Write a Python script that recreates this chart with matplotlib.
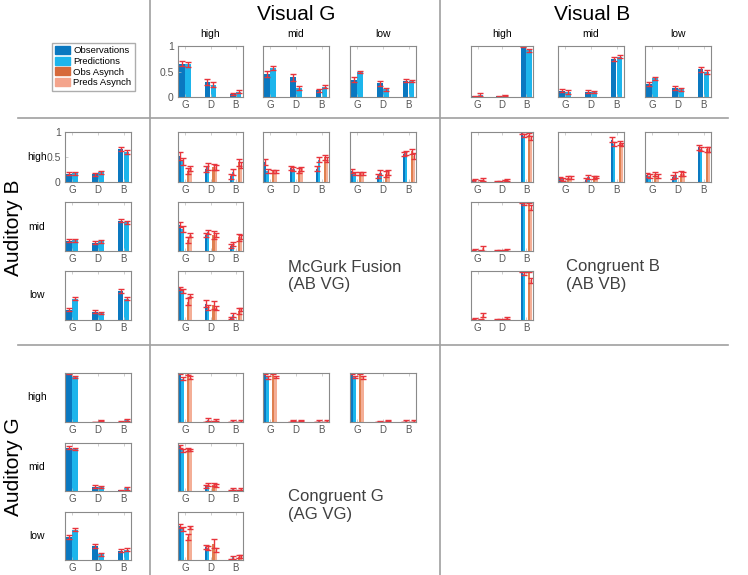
import numpy as np
import matplotlib
matplotlib.use('Agg')
import matplotlib.pyplot as plt
from matplotlib.patches import Patch

plt.rcParams['font.family'] = ['Liberation Sans', 'DejaVu Sans']

W, H = 748, 575

cats = ['G', 'D', 'B']
levels = ['high', 'mid', 'low']

# unimodal conditions, one row per level (high, mid, low), columns G D B
vis_g_obs = [[0.65, 0.30, 0.05], [0.45, 0.39, 0.13], [0.34, 0.27, 0.32]]
vis_g_obs_err = [[0.05, 0.06, 0.02], [0.06, 0.07, 0.03], [0.05, 0.05, 0.03]]
vis_g_pred = [[0.64, 0.24, 0.10], [0.57, 0.17, 0.20], [0.49, 0.15, 0.32]]
vis_g_pred_err = [[0.05, 0.05, 0.03], [0.04, 0.04, 0.03], [0.02, 0.03, 0.02]]

vis_b_obs = [[0.01, 0.01, 0.99], [0.12, 0.10, 0.75], [0.26, 0.17, 0.54]]
vis_b_obs_err = [[0.01, 0.01, 0.01], [0.03, 0.03, 0.04], [0.04, 0.04, 0.04]]
vis_b_pred = [[0.04, 0.02, 0.92], [0.10, 0.09, 0.79], [0.37, 0.15, 0.49]]
vis_b_pred_err = [[0.03, 0.01, 0.03], [0.04, 0.02, 0.03], [0.03, 0.03, 0.03]]

aud_b_obs = [[0.17, 0.16, 0.66], [0.21, 0.17, 0.62], [0.21, 0.17, 0.60]]
aud_b_obs_err = [[0.03, 0.03, 0.04], [0.03, 0.03, 0.03], [0.03, 0.03, 0.04]]
aud_b_pred = [[0.18, 0.20, 0.60], [0.22, 0.20, 0.59], [0.43, 0.15, 0.43]]
aud_b_pred_err = [[0.03, 0.03, 0.04], [0.03, 0.03, 0.03], [0.03, 0.02, 0.03]]

aud_g_obs = [[0.99, 0.00, 0.01], [0.90, 0.09, 0.02], [0.48, 0.29, 0.19]]
aud_g_obs_err = [[0.01, 0.00, 0.01], [0.03, 0.03, 0.01], [0.04, 0.04, 0.03]]
aud_g_pred = [[0.92, 0.03, 0.04], [0.88, 0.08, 0.06], [0.63, 0.12, 0.21]]
aud_g_pred_err = [[0.02, 0.01, 0.02], [0.02, 0.02, 0.03], [0.03, 0.03, 0.03]]

# audiovisual conditions: panels (aud level, vis level)
av_panels = [('high', 'high'), ('high', 'mid'), ('high', 'low'), ('mid', 'high'), ('low', 'high')]

ab_vg_obs = [[0.52, 0.27, 0.12], [0.40, 0.28, 0.27], [0.23, 0.13, 0.57], [0.54, 0.32, 0.10], [0.65, 0.33, 0.05]]
ab_vg_obs_err = [[0.08, 0.06, 0.05], [0.06, 0.04, 0.05], [0.04, 0.04, 0.04], [0.06, 0.04, 0.04], [0.03, 0.07, 0.02]]
ab_vg_pred = [[0.42, 0.32, 0.20], [0.22, 0.27, 0.45], [0.18, 0.19, 0.58], [0.45, 0.38, 0.14], [0.60, 0.26, 0.10]]
ab_vg_pred_err = [[0.07, 0.07, 0.06], [0.04, 0.04, 0.05], [0.03, 0.05, 0.04], [0.07, 0.04, 0.04], [0.04, 0.05, 0.04]]
ab_vg_obs_as = [[0.22, 0.30, 0.40], [0.22, 0.23, 0.50], [0.18, 0.16, 0.62], [0.22, 0.33, 0.28], [0.37, 0.31, 0.19]]
ab_vg_obs_as_err = [[0.06, 0.06, 0.07], [0.03, 0.05, 0.05], [0.03, 0.06, 0.05], [0.06, 0.08, 0.07], [0.07, 0.08, 0.06]]
ab_vg_pred_as = [[0.28, 0.30, 0.34], [0.22, 0.27, 0.45], [0.18, 0.20, 0.53], [0.33, 0.32, 0.28], [0.50, 0.25, 0.22]]
ab_vg_pred_as_err = [[0.05, 0.05, 0.06], [0.03, 0.04, 0.05], [0.03, 0.05, 0.06], [0.04, 0.04, 0.04], [0.04, 0.04, 0.03]]

ab_vb_obs = [[0.02, 0.01, 0.98], [0.08, 0.05, 0.85], [0.14, 0.10, 0.70], [0.01, 0.01, 0.99], [0.02, 0.01, 0.99]]
ab_vb_obs_err = [[0.02, 0.01, 0.02], [0.03, 0.04, 0.05], [0.04, 0.04, 0.05], [0.01, 0.01, 0.01], [0.01, 0.01, 0.01]]
ab_vb_pred = [[0.04, 0.02, 0.93], [0.06, 0.10, 0.77], [0.13, 0.15, 0.66], [0.03, 0.01, 0.96], [0.03, 0.01, 0.94]]
ab_vb_pred_err = [[0.03, 0.01, 0.03], [0.03, 0.04, 0.04], [0.04, 0.06, 0.04], [0.02, 0.01, 0.03], [0.02, 0.01, 0.03]]
ab_vb_obs_as = [[0.03, 0.03, 0.95], [0.09, 0.10, 0.78], [0.16, 0.17, 0.66], [0.02, 0.02, 0.99], [0.02, 0.02, 0.99]]
ab_vb_obs_as_err = [[0.02, 0.02, 0.03], [0.03, 0.03, 0.04], [0.04, 0.05, 0.05], [0.01, 0.01, 0.01], [0.01, 0.01, 0.01]]
ab_vb_pred_as = [[0.05, 0.04, 0.89], [0.09, 0.11, 0.76], [0.13, 0.17, 0.66], [0.06, 0.03, 0.88], [0.11, 0.05, 0.81]]
ab_vb_pred_as_err = [[0.03, 0.02, 0.04], [0.03, 0.02, 0.03], [0.04, 0.04, 0.05], [0.05, 0.02, 0.05], [0.04, 0.02, 0.05]]

ag_vg_obs = [[0.99, 0.00, 0.00], [0.99, 0.00, 0.00], [0.99, 0.00, 0.00], [0.93, 0.10, 0.01], [0.70, 0.27, 0.02]]
ag_vg_obs_err = [[0.01, 0.00, 0.00], [0.01, 0.00, 0.00], [0.01, 0.00, 0.00], [0.03, 0.03, 0.01], [0.04, 0.04, 0.01]]
ag_vg_pred = [[0.88, 0.05, 0.03], [0.91, 0.03, 0.03], [0.91, 0.02, 0.03], [0.85, 0.13, 0.04], [0.65, 0.25, 0.06]]
ag_vg_pred_err = [[0.03, 0.03, 0.02], [0.03, 0.01, 0.02], [0.02, 0.01, 0.02], [0.03, 0.03, 0.02], [0.04, 0.04, 0.03]]
ag_vg_obs_as = [[0.98, 0.01, 0.00], [0.99, 0.00, 0.00], [0.99, 0.00, 0.00], [0.87, 0.13, 0.01], [0.48, 0.34, 0.07]]
ag_vg_obs_as_err = [[0.02, 0.01, 0.00], [0.01, 0.00, 0.00], [0.01, 0.00, 0.00], [0.03, 0.03, 0.01], [0.07, 0.10, 0.03]]
ag_vg_pred_as = [[0.90, 0.04, 0.03], [0.92, 0.03, 0.03], [0.91, 0.03, 0.03], [0.85, 0.12, 0.05], [0.68, 0.20, 0.08]]
ag_vg_pred_as_err = [[0.03, 0.02, 0.02], [0.02, 0.01, 0.02], [0.03, 0.01, 0.02], [0.02, 0.03, 0.02], [0.03, 0.04, 0.03]]

c_obs = '#0A78C0'
c_pred = '#1DB5EC'
c_obs_as = '#DF8050'
c_pred_as = '#F4AE96'
c_leg_obs_as = '#D6693A'
c_leg_pred_as = '#F4A48C'
c_err = '#E8343C'
c_axis = '#8A8A8A'
c_text = '#555555'

fig = plt.figure(figsize=(W / 100, H / 100), dpi=100)


def px_axes(x0, y0, x1, y1):
    return fig.add_axes([x0 / W, 1 - y1 / H, (x1 - x0) / W, (y1 - y0) / H])


def draw_panel(ax, series, offsets, width, yticks=False):
    x = np.arange(1, 4)
    for (vals, err, col), off in zip(series, offsets):
        ax.bar(x + off, vals, width, color=col, linewidth=0)
        ax.errorbar(x + off, vals, yerr=err, fmt='none', ecolor=c_err,
                    elinewidth=1.0, capsize=2.2, capthick=1.0)
    ax.set_xlim(0.72, 3.28)
    ax.set_ylim(0, 1)
    ax.set_xticks(x)
    ax.set_xticklabels(cats)
    ax.tick_params(axis='x', direction='in', top=True, length=2, width=0.5,
                   color='#bbbbbb', labelsize=7, labelcolor=c_text, pad=2)
    if yticks:
        ax.set_yticks([0, 0.5, 1])
        ax.set_yticklabels(['0', '0.5', '1'])
        ax.tick_params(axis='y', direction='in', length=2, width=0.5,
                       color='#bbbbbb', labelsize=7.5, labelcolor=c_text, pad=3)
    else:
        ax.set_yticks([])
    for s in ax.spines.values():
        s.set_color(c_axis)
        s.set_linewidth(0.8)


def two_bar(rect, obs, obs_e, pred, pred_e, yticks=False):
    ax = px_axes(*rect)
    draw_panel(ax, [(obs, obs_e, c_obs), (pred, pred_e, c_pred)],
               [-0.125, 0.11], 0.22, yticks)
    return ax


def four_bar(rect, i, obs, obs_e, pred, pred_e, oa, oa_e, pa, pa_e):
    ax = px_axes(*rect)
    draw_panel(ax, [(obs[i], obs_e[i], c_obs), (pred[i], pred_e[i], c_pred),
                    (oa[i], oa_e[i], c_obs_as), (pa[i], pa_e[i], c_pred_as)],
               [-0.19, -0.1, 0.12, 0.21], 0.09)
    return ax


# pixel layout
vg_cols = [(178, 243), (263, 329), (350, 416)]
vb_cols = [(471, 533), (558, 624), (645, 711)]
left_col = (65, 131)
top_row = (46, 97)
ab_rows = [(132, 182), (202, 251), (271, 320)]
ag_rows = [(373, 422), (443, 491), (512, 560)]

# top row: visual only
for k in range(3):
    two_bar((vg_cols[k][0], top_row[0], vg_cols[k][1], top_row[1]),
            vis_g_obs[k], vis_g_obs_err[k], vis_g_pred[k], vis_g_pred_err[k], yticks=(k == 0))
    two_bar((vb_cols[k][0], top_row[0], vb_cols[k][1], top_row[1]),
            vis_b_obs[k], vis_b_obs_err[k], vis_b_pred[k], vis_b_pred_err[k])

# left column: auditory only
for k in range(3):
    two_bar((left_col[0], ab_rows[k][0], left_col[1], ab_rows[k][1]),
            aud_b_obs[k], aud_b_obs_err[k], aud_b_pred[k], aud_b_pred_err[k], yticks=(k == 0))
    two_bar((left_col[0], ag_rows[k][0], left_col[1], ag_rows[k][1]),
            aud_g_obs[k], aud_g_obs_err[k], aud_g_pred[k], aud_g_pred_err[k])

# audiovisual panels
for i, (a_lvl, v_lvl) in enumerate(av_panels):
    r = levels.index(a_lvl)
    c = levels.index(v_lvl)
    four_bar((vg_cols[c][0], ab_rows[r][0], vg_cols[c][1], ab_rows[r][1]), i,
             ab_vg_obs, ab_vg_obs_err, ab_vg_pred, ab_vg_pred_err,
             ab_vg_obs_as, ab_vg_obs_as_err, ab_vg_pred_as, ab_vg_pred_as_err)
    four_bar((vb_cols[c][0], ab_rows[r][0], vb_cols[c][1], ab_rows[r][1]), i,
             ab_vb_obs, ab_vb_obs_err, ab_vb_pred, ab_vb_pred_err,
             ab_vb_obs_as, ab_vb_obs_as_err, ab_vb_pred_as, ab_vb_pred_as_err)
    four_bar((vg_cols[c][0], ag_rows[r][0], vg_cols[c][1], ag_rows[r][1]), i,
             ag_vg_obs, ag_vg_obs_err, ag_vg_pred, ag_vg_pred_err,
             ag_vg_obs_as, ag_vg_obs_as_err, ag_vg_pred_as, ag_vg_pred_as_err)

# divider lines
line_col = '#A0A0A0'
fig.add_artist(plt.Line2D([150 / W, 150 / W], [0, 1], color=line_col, lw=1.2))
fig.add_artist(plt.Line2D([440 / W, 440 / W], [0, 1], color=line_col, lw=1.2))
fig.add_artist(plt.Line2D([18 / W, 728 / W], [1 - 118 / H, 1 - 118 / H], color=line_col, lw=1.2))
fig.add_artist(plt.Line2D([18 / W, 728 / W], [1 - 345 / H, 1 - 345 / H], color=line_col, lw=1.2))


def fig_text(x, y, s, **kw):
    fig.text(x / W, 1 - y / H, s, **kw)


# headers
fig_text(296, 14, 'Visual G', fontsize=15, ha='center', va='center')
fig_text(592, 14, 'Visual B', fontsize=15, ha='center', va='center')
for k, lvl in enumerate(levels):
    fig_text((vg_cols[k][0] + vg_cols[k][1]) / 2, 34, lvl, fontsize=7.5, ha='center', va='center')
    fig_text((vb_cols[k][0] + vb_cols[k][1]) / 2, 34, lvl, fontsize=7.5, ha='center', va='center')
fig_text(14, 228, 'Auditory B', fontsize=15, ha='center', va='center', rotation=90)
fig_text(14, 467, 'Auditory G', fontsize=15, ha='center', va='center', rotation=90)
for k, lvl in enumerate(levels):
    fig_text(37, (ab_rows[k][0] + ab_rows[k][1]) / 2, lvl, fontsize=7.5, ha='center', va='center')
    fig_text(37, (ag_rows[k][0] + ag_rows[k][1]) / 2, lvl, fontsize=7.5, ha='center', va='center')

fig_text(288, 276, 'McGurk Fusion\n(AB VG)', fontsize=12, color='#404040', ha='left', va='center',
         linespacing=1.25)
fig_text(566, 276, 'Congruent B\n(AB VB)', fontsize=12, color='#404040', ha='left', va='center',
         linespacing=1.25)
fig_text(288, 505, 'Congruent G\n(AG VG)', fontsize=12, color='#404040', ha='left', va='center',
         linespacing=1.25)

# legend
handles = [Patch(color=c_obs), Patch(color=c_pred), Patch(color=c_leg_obs_as), Patch(color=c_leg_pred_as)]
fig.legend(handles, ['Observations', 'Predictions', 'Obs Asynch', 'Preds Asynch'],
           loc='upper left', bbox_to_anchor=(52 / W, 1 - 43 / H), fontsize=6.8,
           frameon=True, fancybox=False, edgecolor='#999999', handlelength=1.6,
           handleheight=0.9, handletextpad=0.3, labelspacing=0.15, borderpad=0.35,
           borderaxespad=0)

fig.savefig('out.png', dpi=100, facecolor='white')
